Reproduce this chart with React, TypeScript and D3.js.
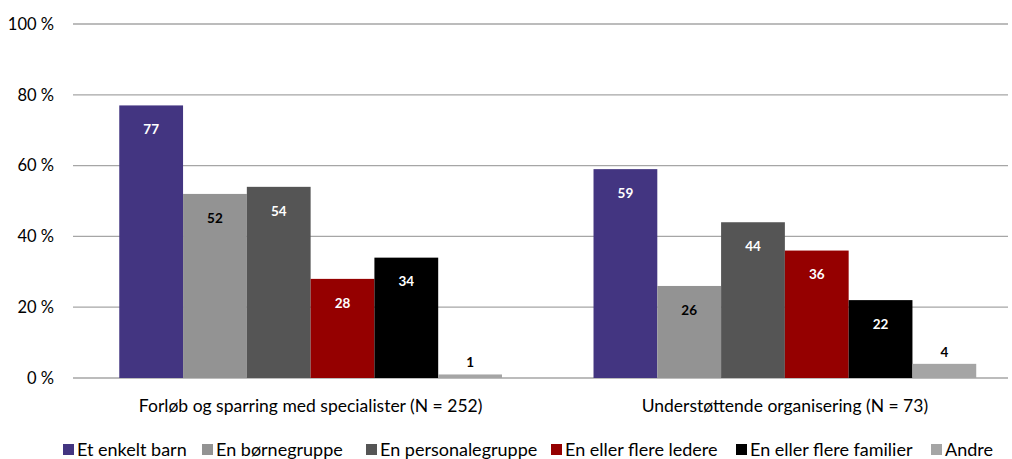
import * as d3 from "d3";
import * as React from "react";

const groups = ["Forløb og sparring med specialister (N = 252)", "Understøttende organisering (N = 73)"];
const seriesNames = ["Et enkelt barn", "En børnegruppe", "En personalegruppe", "En eller flere ledere", "En eller flere familier", "Andre"];
const seriesColors = ["#433581", "#939393", "#555555", "#950000", "#000000", "#a5a5a5"];
const labelColors = ["#ffffff", "#000000", "#ffffff", "#ffffff", "#ffffff", "#000000"];
const valuesForlob = [77, 52, 54, 28, 34, 1];
const valuesUnderst = [59, 26, 44, 36, 22, 4];
const yTicks = [0, 20, 40, 60, 80, 100];

const values = [valuesForlob, valuesUnderst];

const W = 1012;
const H = 459;
const FONT = "Lato, 'Open Sans', sans-serif";

export default function App(): JSX.Element {
    const y = d3.scaleLinear().domain([0, 100]).range([378, 24]);
    const x0 = d3.scaleBand<string>().domain(groups).range([73.5, 1022]).paddingInner(0).paddingOuter(0);
    const inner = x0.bandwidth() * 0.807;
    const x1 = d3.scaleBand<string>().domain(seriesNames).range([0, inner]).padding(0);
    const gridLeft = 73;
    const gridRight = 1008;

    return (
        <svg width={W} height={H} style={{ position: "absolute", left: 0, top: 0, fontFamily: FONT }}>
            <rect width={W} height={H} fill="#ffffff" />
            {yTicks.map(t => (
                <g key={t}>
                    <line x1={gridLeft} x2={gridRight} y1={y(t)} y2={y(t)} stroke="#a6a6a6" strokeWidth={1.3} />
                    <text x={54} y={y(t)} dy="0.35em" textAnchor="end" fontSize={16.5} fill="#000">{`${t} %`}</text>
                </g>
            ))}
            {groups.map((g, gi) => {
                const gx = (x0(g) ?? 0) + (x0.bandwidth() - inner) / 2;
                return (
                    <g key={g} transform={`translate(${gx},0)`}>
                        {values[gi].map((v, si) => {
                            const bx = x1(seriesNames[si]) ?? 0;
                            const top = y(v);
                            const small = v < 8;
                            return (
                                <g key={si}>
                                    <rect x={bx} y={top} width={x1.bandwidth()} height={y(0) - top} fill={seriesColors[si]} />
                                    <text
                                        x={bx + x1.bandwidth() / 2}
                                        y={small ? top - 12 : top + 24}
                                        dy="0.35em"
                                        textAnchor="middle"
                                        fontSize={13.5}
                                        fontWeight="bold"
                                        fill={small ? "#000000" : labelColors[si]}
                                    >{v}</text>
                                </g>
                            );
                        })}
                        <text x={inner / 2} y={406} dy="0.35em" textAnchor="middle" fontSize={17.5} fill="#000">{g}</text>
                    </g>
                );
            })}
            <g transform="translate(0,450)">
                {seriesNames.map((s, i) => {
                    const lx = [63, 202, 366, 551, 736, 931][i];
                    return (
                        <g key={s} transform={`translate(${lx},0)`}>
                            <rect x={0} y={-6} width={11} height={11} fill={seriesColors[i]} />
                            <text x={14} y={0} dy="0.35em" fontSize={18} fill="#000">{s}</text>
                        </g>
                    );
                })}
            </g>
        </svg>
    );
}
